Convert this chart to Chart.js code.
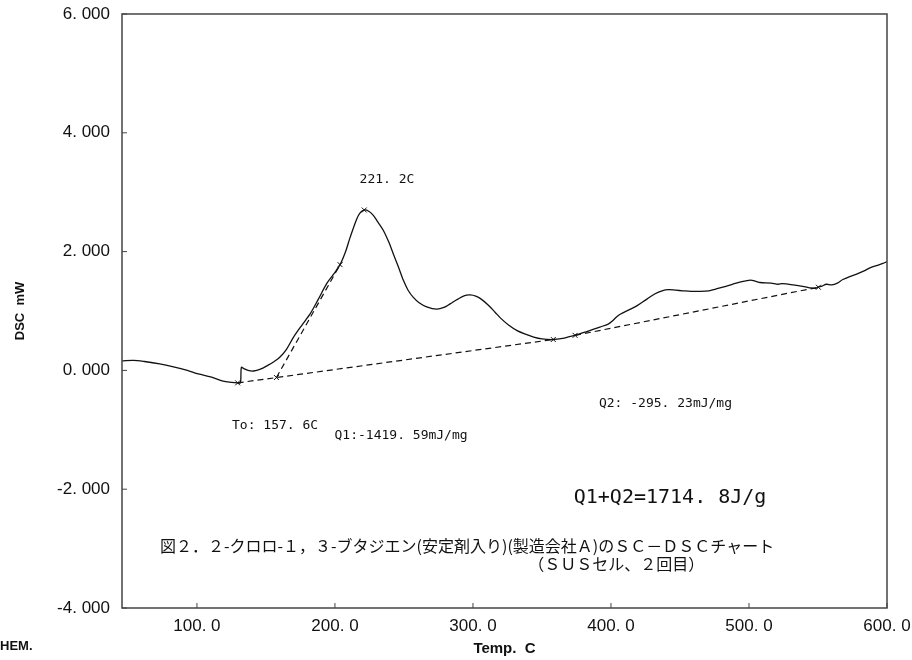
<!DOCTYPE html>
<html>
<head>
<meta charset="utf-8">
<script src="https://cdn.jsdelivr.net/npm/chart.js@4.4.1/dist/chart.umd.min.js"></script>
<style>
  html, body { margin: 0; padding: 0; background: #fff; }
</style>
</head>
<body>
<canvas id="chart-dsc" width="912" height="660"></canvas>
<script>
// DSC trace: temperature (C) vs heat flow (mW)
const tempC = [
  45.7, 54, 62, 73, 83, 93, 101, 110, 119, 125, 129.5, 131.5, 132.2, 134, 137, 141,
  146, 151, 156, 160, 165, 170, 176, 182, 188, 194, 199, 203.7, 208, 211, 215.8, 218.5,
  221.2, 224.5, 227.8, 231, 235, 239, 242.3, 246, 249.5, 253, 256.8, 261, 266.5, 273.7,
  279, 283.4, 289, 294, 298, 302, 306, 311, 316, 320, 326, 332, 338, 344, 350, 358.2,
  365, 370, 374, 382, 392, 398, 401, 404, 407, 413, 419, 426, 432, 437, 441.6, 447,
  452, 458, 464, 471, 476, 481, 488, 494, 501, 505, 508, 516, 521, 524, 532, 540,
  544, 548, 550, 553, 556, 560, 564, 568, 573, 578, 583, 588, 593, 597, 600
];
const dscMW = [
  0.16, 0.17, 0.15, 0.11, 0.06, 0.00, -0.06, -0.11, -0.18, -0.20, -0.21, -0.21, 0.05, 0.03, 0.00, -0.01,
  0.02, 0.08, 0.15, 0.22, 0.36, 0.56, 0.76, 0.95, 1.20, 1.46, 1.62, 1.78, 2.02, 2.24, 2.55, 2.66,
  2.70, 2.68, 2.61, 2.50, 2.36, 2.16, 1.96, 1.74, 1.52, 1.35, 1.23, 1.14, 1.07, 1.03,
  1.06, 1.12, 1.20, 1.26, 1.27, 1.25, 1.20, 1.10, 0.98, 0.88, 0.76, 0.67, 0.61, 0.56, 0.53, 0.52,
  0.54, 0.57, 0.59, 0.65, 0.73, 0.78, 0.83, 0.90, 0.95, 1.02, 1.09, 1.20, 1.29, 1.34, 1.36, 1.35,
  1.34, 1.33, 1.33, 1.34, 1.37, 1.40, 1.45, 1.49, 1.52, 1.50, 1.48, 1.47, 1.45, 1.46, 1.44, 1.41,
  1.39, 1.38, 1.40, 1.42, 1.45, 1.44, 1.47, 1.53, 1.58, 1.62, 1.67, 1.73, 1.77, 1.80, 1.83
];

// baselines and onset tangent (dashed)
const baseQ1T = [129.5, 358.2];
const baseQ1D = [-0.21, 0.52];
const baseQ2T = [374, 550.3];
const baseQ2D = [0.59, 1.40];
const tangentT = [157.6, 203.7];
const tangentD = [-0.12, 1.78];

// analysis points marked with x
const markT = [129.5, 157.6, 203.7, 221.2, 358.2, 374, 550.3];
const markD = [-0.21, -0.12, 1.78, 2.70, 0.52, 0.59, 1.40];

const xTicks = [100, 200, 300, 400, 500, 600];
const yTicks = [-4, -2, 0, 2, 4, 6];

const MONO = "'DejaVu Sans Mono', 'Liberation Mono', monospace";
const LATIN = "'Liberation Sans', Arial, sans-serif";
const NARROW = "'Liberation Sans Narrow', 'Liberation Sans', sans-serif";
const CJK = "'Noto Sans CJK JP', 'Noto Sans', sans-serif";

// text notes placed in data units: [text, temp, dsc, font, align]
const notes = [
  ['221. 2C', 237.7, 3.22, `13px ${MONO}`, 'center'],
  ['To: 157. 6C', 156.6, -0.93, `13px ${MONO}`, 'center'],
  ['Q1:-1419. 59mJ/mg', 247.9, -1.09, `13px ${MONO}`, 'center'],
  ['Q2: -295. 23mJ/mg', 439.5, -0.56, `13px ${MONO}`, 'center'],
  ['Q1+Q2=1714. 8J/g', 442.8, -2.14, `20px ${MONO}`, 'center'],
  ['図２．２-クロロ-１，３-ブタジエン(安定剤入り)(製造会社Ａ)のＳＣ－ＤＳＣチャート', 27.5 + 45.7, -2.96, `16px ${CJK}`, 'left'],
  ['（ＳＵＳセル、２回目）', 340, -3.25, `16px ${CJK}`, 'left'],
];

const pts = (xs, ys) => xs.map((x, i) => ({ x, y: ys[i] }));
const fmt = (v, d) => v.toFixed(d).replace('.', '. ');

const dashed = (data) => ({
  data, showLine: true, borderColor: '#111', borderWidth: 1.2,
  borderDash: [6, 4], pointRadius: 0, fill: false,
});

// frame, inward ticks and text notes
const framePlugin = {
  id: 'frame',
  afterDatasetsDraw(chart) {
    const { ctx, chartArea: a, scales: { x, y } } = chart;
    ctx.save();
    ctx.strokeStyle = '#444';
    ctx.lineWidth = 1.5;
    ctx.strokeRect(a.left, a.top, a.right - a.left, a.bottom - a.top);
    ctx.lineWidth = 1;
    ctx.beginPath();
    xTicks.forEach(v => {
      const px = x.getPixelForValue(v);
      ctx.moveTo(px, a.bottom); ctx.lineTo(px, a.bottom - 5);
    });
    yTicks.forEach(v => {
      const py = y.getPixelForValue(v);
      ctx.moveTo(a.left, py); ctx.lineTo(a.left + 5, py);
    });
    ctx.stroke();

    ctx.fillStyle = '#111';
    ctx.textBaseline = 'middle';
    notes.forEach(([txt, t, d, font, align]) => {
      ctx.font = font;
      ctx.textAlign = align;
      ctx.fillText(txt, x.getPixelForValue(t), y.getPixelForValue(d));
    });

    ctx.font = `bold 13px ${NARROW}`;
    ctx.textAlign = 'left';
    ctx.fillText('HEM.', 0, 646);
    ctx.restore();
  },
};

new Chart(document.getElementById('chart-dsc'), {
  type: 'scatter',
  data: {
    datasets: [
      { data: pts(tempC, dscMW), showLine: true, borderColor: '#111', borderWidth: 1.3, pointRadius: 0, tension: 0.3 },
      dashed(pts(baseQ1T, baseQ1D)),
      dashed(pts(baseQ2T, baseQ2D)),
      dashed(pts(tangentT, tangentD)),
      {
        data: pts(markT, markD), showLine: false, pointStyle: 'crossRot',
        pointRadius: 3.5, borderColor: '#111', borderWidth: 1,
      },
    ],
  },
  options: {
    responsive: false,
    animation: false,
    layout: { padding: { top: 14, right: 25, left: 0, bottom: 0 } },
    plugins: { legend: { display: false }, tooltip: { enabled: false } },
    scales: {
      x: {
        type: 'linear', min: 45.7, max: 600,
        afterBuildTicks: s => { s.ticks = xTicks.map(v => ({ value: v })); },
        afterFit: s => { s.height = 52; s.paddingLeft = 0; s.paddingRight = 0; },
        grid: { display: false, drawTicks: false },
        border: { display: false },
        ticks: { callback: v => fmt(v, 1), font: { family: LATIN, size: 17 }, color: '#111', padding: 8, maxRotation: 0 },
        title: { display: true, text: 'Temp.  C', font: { family: NARROW, size: 15, weight: 'bold' }, color: '#111', padding: { top: 0, bottom: 2 } },
      },
      y: {
        min: -4, max: 6,
        afterBuildTicks: s => { s.ticks = yTicks.map(v => ({ value: v })); },
        afterFit: s => { s.width = 122; s.paddingTop = 0; s.paddingBottom = 0; },
        grid: { display: false, drawTicks: false },
        border: { display: false },
        ticks: { callback: v => fmt(v, 3), font: { family: LATIN, size: 17 }, color: '#111', padding: 12 },
        title: { display: true, text: 'DSC  mW', font: { family: NARROW, size: 13, weight: 'bold' }, color: '#111', padding: { top: 13, bottom: 0 } },
      },
    },
  },
  plugins: [framePlugin],
});
</script>
</body>
</html>
